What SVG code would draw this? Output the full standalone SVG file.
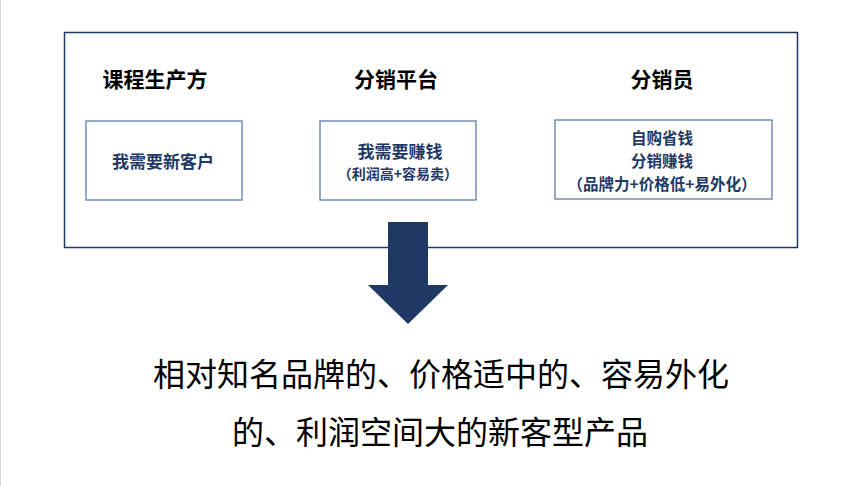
<svg xmlns="http://www.w3.org/2000/svg" width="865" height="486" viewBox="0 0 865 486">
<style>
text{font-family:"Noto Sans CJK SC","Noto Sans",sans-serif;text-anchor:middle;dominant-baseline:central}
.hdr{font-size:21px;font-weight:bold;fill:#000}
.box{fill:#fff;stroke:#5b7fa9;stroke-width:1.3}
.bt{font-size:17px;font-weight:bold;fill:#1f3864}
.b3{font-size:15.5px;font-weight:bold;fill:#1f3864}
.bs{font-size:14px;font-weight:bold;fill:#1f3864}
.big{font-size:32px;fill:#000}
</style>
<rect x="0" y="0" width="865" height="486" fill="#fff"/>
<line x1="0.5" y1="0" x2="0.5" y2="486" stroke="#d9d9d9" stroke-width="1"/>
<g id="frame"><rect x="64.5" y="32.5" width="733" height="215" fill="none" stroke="#1f3864" stroke-width="1.5"/></g>
<g id="producer">
<text class="hdr" x="155" y="78">课程生产方</text>
<rect class="box" x="86" y="121" width="156" height="79"/>
<text class="bt" x="163" y="160">我需要新客户</text>
</g>
<g id="platform">
<text class="hdr" x="396" y="78">分销平台</text>
<rect class="box" x="320" y="121" width="156" height="79"/>
<text class="bt" x="400" y="150">我需要赚钱</text>
<text class="bs" x="398" y="173">（利润高+容易卖）</text>
</g>
<g id="distributor">
<text class="hdr" x="662" y="78">分销员</text>
<rect class="box" x="555" y="120" width="217" height="79"/>
<text class="b3" x="662" y="137">自购省钱</text>
<text class="b3" x="662" y="160">分销赚钱</text>
<text class="b3" x="662" y="183">（品牌力+价格低+易外化）</text>
</g>
<g id="connectors">
<polygon points="388,222 428,222 428,285 448,285 408,324 368,285 388,285" fill="#203864"/>
</g>
<g id="result">
<text class="big" x="441" y="372">相对知名品牌的、价格适中的、容易外化</text>
<text class="big" x="440" y="430">的、利润空间大的新客型产品</text>
</g>
</svg>
